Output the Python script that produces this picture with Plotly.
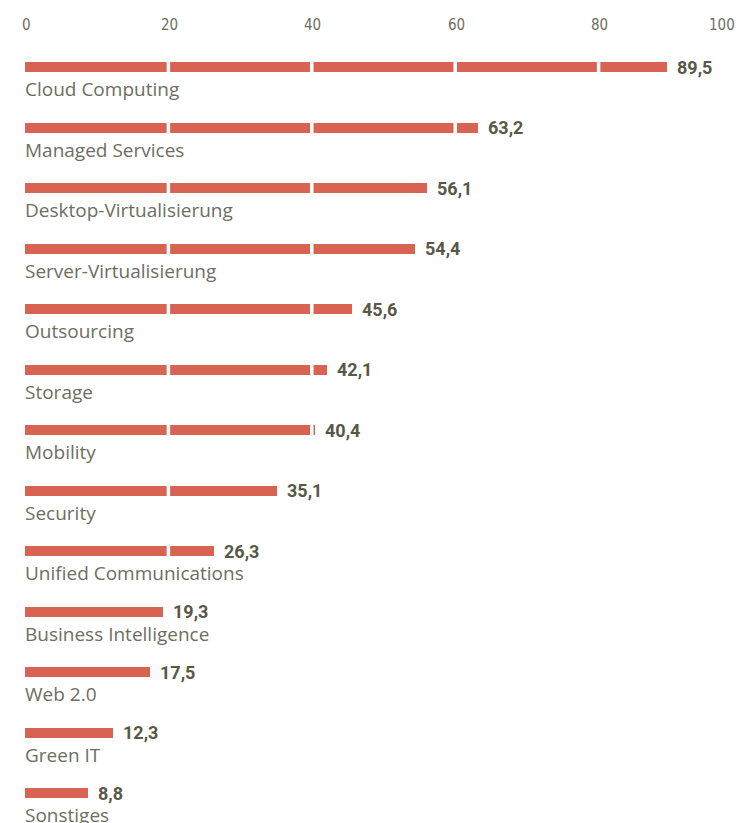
import plotly.graph_objects as go

categories = ["Cloud Computing", "Managed Services", "Desktop-Virtualisierung",
              "Server-Virtualisierung", "Outsourcing", "Storage", "Mobility",
              "Security", "Unified Communications", "Business Intelligence",
              "Web 2.0", "Green IT", "Sonstiges"]
values = [89.5, 63.2, 56.1, 54.4, 45.6, 42.1, 40.4, 35.1, 26.3, 19.3, 17.5, 12.3, 8.8]
value_labels = ["89,5", "63,2", "56,1", "54,4", "45,6", "42,1", "40,4", "35,1",
                "26,3", "19,3", "17,5", "12,3", "8,8"]
tick_values = [0, 20, 40, 60, 80, 100]
tick_labels = ["0", "20", "40", "60", "80", "100"]
grid_values = [20, 40, 60, 80]

W, H = 745, 823
row_px = 60.5
first_px = 67
bar_px = 10

BAR = "#D96352"
TXT = "#6E6E5E"
VAL = "#585846"
FONT = "Roboto"
CAT_FONT = "Open Sans"
TICK_FONT = "Liberation Sans Narrow, DejaVu Sans Condensed, Roboto"

ys = list(range(len(categories)))
bw = bar_px / row_px

fig = go.Figure()
fig.add_trace(go.Bar(
    x=values, y=ys, orientation="h", width=bw,
    marker=dict(color=BAR, line=dict(width=0)),
    hoverinfo="skip", showlegend=False,
))

# white separators over bars at grid values
for y, v in zip(ys, values):
    for g in grid_values:
        if v > g:
            fig.add_shape(type="line", x0=g, x1=g, y0=y - bw / 2 - 0.01, y1=y + bw / 2 + 0.01,
                          xref="x", yref="y", layer="above",
                          line=dict(color="white", width=3.5))

annotations = []
for y, v, lab, cat in zip(ys, values, value_labels, categories):
    annotations.append(dict(x=v, y=y, xref="x", yref="y", text="<b>" + lab + "</b>",
                            showarrow=False, xanchor="left", yanchor="middle",
                            xshift=8, font=dict(family=FONT, size=18, color=VAL)))
    annotations.append(dict(x=0, y=y, xref="x", yref="y", text=cat,
                            showarrow=False, xanchor="left", yanchor="middle",
                            yshift=-22, xshift=-2, font=dict(family=CAT_FONT, size=19, color=TXT)))

for i, (tv, tl) in enumerate(zip(tick_values, tick_labels)):
    if i == len(tick_values) - 1:
        anchor, shift = "right", -5
    else:
        anchor, shift = "center", 1
    annotations.append(dict(x=tv, y=1 - 25 / H, xref="x", yref="paper", text=tl,
                            showarrow=False, xanchor=anchor, yanchor="middle",
                            xshift=shift, font=dict(family=TICK_FONT, size=15, color=TXT)))

fig.update_layout(
    width=W, height=H,
    margin=dict(l=25, r=3, t=0, b=0),
    paper_bgcolor="white", plot_bgcolor="white",
    xaxis=dict(range=[0, 100], showgrid=False, zeroline=False, showticklabels=False,
               showline=False, fixedrange=True),
    yaxis=dict(range=[(H - first_px) / row_px, -first_px / row_px], showgrid=False,
               zeroline=False, showticklabels=False, showline=False, fixedrange=True),
    annotations=annotations,
    bargap=0,
)

fig.write_html("out.html")
